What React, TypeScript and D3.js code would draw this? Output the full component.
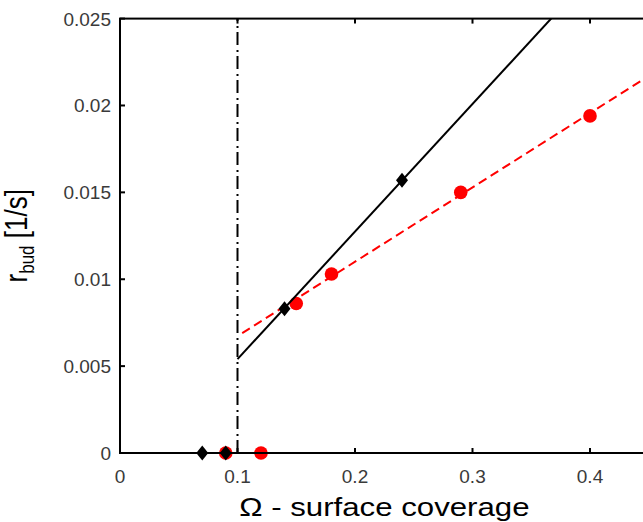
import React from "react";
import * as d3 from "d3";

// Axis ticks
const xTicks = [0, 0.1, 0.2, 0.3, 0.4];
const yTicks = [0, 0.005, 0.01, 0.015, 0.02, 0.025];
const yTickLabels = ["0", "0.005", "0.01", "0.015", "0.02", "0.025"];

// Measured budding rates (black diamonds)
const blackX = [0.07, 0.09, 0.14, 0.24];
const blackY = [0, 0, 0.0083, 0.0157];

// Measured budding rates (red circles)
const redX = [0.09, 0.12, 0.15, 0.18, 0.29, 0.4];
const redY = [0, 0, 0.0086, 0.0103, 0.015, 0.0194];

// Linear fits above the threshold
const blackFitX = [0.1, 0.45];
const blackFitY = [0.0054, 0.0311];
const redFitX = [0.104, 0.45];
const redFitY = [0.0069, 0.0217];

// Coverage threshold
const thresholdX = 0.1;

const W = 643;
const H = 522;
const left = 120;
const top = 18.6;
const bottom = 453;
const right = left + 0.45 * 1175;

export default function App() {
  const x = d3.scaleLinear().domain([0, 0.45]).range([left, right]);
  const y = d3.scaleLinear().domain([0, 0.025]).range([bottom, top]);
  const line = d3
    .line<[number, number]>()
    .x((d) => x(d[0]))
    .y((d) => y(d[1]));

  const blackFit = blackFitX.map((v, i) => [v, blackFitY[i]] as [number, number]);
  const redFit = redFitX.map((v, i) => [v, redFitY[i]] as [number, number]);
  const diamond = (cx: number, cy: number) =>
    `M${cx},${cy - 7.5}L${cx + 6},${cy}L${cx},${cy + 7.5}L${cx - 6},${cy}Z`;

  const tickFont = {
    fontFamily: "Liberation Sans, Arial, sans-serif",
    fontSize: 19,
    fill: "#3a3a3a",
  };
  const xMid = (left + right) / 2;
  const yMid = (top + bottom) / 2;

  return (
    <svg
      width={W}
      height={H}
      style={{ position: "absolute", left: 0, top: 0, background: "#fff" }}
    >
      <defs>
        <clipPath id="plot">
          <rect x={left} y={top} width={right - left} height={bottom - top} />
        </clipPath>
      </defs>

      {/* threshold line */}
      <line
        x1={x(thresholdX)}
        x2={x(thresholdX)}
        y1={y(0)}
        y2={y(0.025)}
        stroke="#000"
        strokeWidth={2}
        strokeDasharray="13,4,2,5"
      />

      <g clipPath="url(#plot)">
        <path
          d={line(redFit) || ""}
          fill="none"
          stroke="#ff0000"
          strokeWidth={2}
          strokeDasharray="9,5"
        />
      </g>
      {redX.map((v, i) => (
        <circle key={"r" + i} cx={x(v)} cy={y(redY[i])} r={6.8} fill="#ff0000" />
      ))}
      <g clipPath="url(#plot)">
        <path d={line(blackFit) || ""} fill="none" stroke="#000" strokeWidth={2} />
      </g>
      {blackX.map((v, i) => (
        <path key={"b" + i} d={diamond(x(v), y(blackY[i]))} fill="#000" />
      ))}

      {/* axes box */}
      <rect
        x={left}
        y={top}
        width={right - left}
        height={bottom - top}
        fill="none"
        stroke="#000"
        strokeWidth={2}
      />

      {xTicks.map((t) => (
        <g key={"xt" + t}>
          <line x1={x(t)} x2={x(t)} y1={bottom} y2={bottom - 5} stroke="#000" strokeWidth={2} />
          <line x1={x(t)} x2={x(t)} y1={top} y2={top + 5} stroke="#000" strokeWidth={2} />
          <text x={x(t)} y={483} textAnchor="middle" {...tickFont}>
            {String(t)}
          </text>
        </g>
      ))}

      {yTicks.map((t, i) => (
        <g key={"yt" + t}>
          <line x1={left} x2={left + 5} y1={y(t)} y2={y(t)} stroke="#000" strokeWidth={2} />
          <line x1={right} x2={right - 5} y1={y(t)} y2={y(t)} stroke="#000" strokeWidth={2} />
          <text x={111} y={y(t) + 7} textAnchor="end" {...tickFont}>
            {yTickLabels[i]}
          </text>
        </g>
      ))}

      <text
        transform={`translate(${xMid},515.5) scale(1.2,1)`}
        textAnchor="middle"
        fontFamily="Liberation Sans, Arial, sans-serif"
        fontSize={26}
        fill="#000"
      >
        Ω - surface coverage
      </text>

      <text
        transform={`translate(27,${yMid}) rotate(-90) scale(1,1.2)`}
        textAnchor="middle"
        fontFamily="Liberation Sans, Arial, sans-serif"
        fontSize={26}
        fill="#000"
      >
        r
        <tspan fontSize={17} dy={6}>
          bud
        </tspan>
        <tspan dy={-6}> [1/s]</tspan>
      </text>
    </svg>
  );
}
